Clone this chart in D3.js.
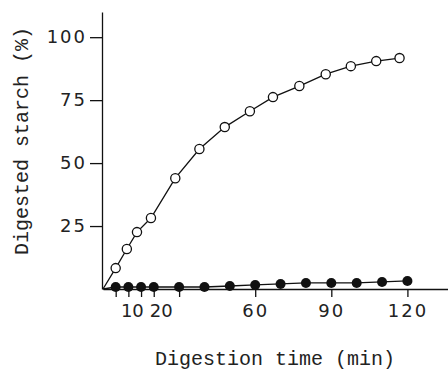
<!DOCTYPE html>
<html>
<head>
<meta charset="utf-8">
<script src="https://cdn.jsdelivr.net/npm/d3@7"></script>
<style>
  body { margin: 0; background: #fff; }
  .chart svg { display: block; }
</style>
</head>
<body>
<div class="chart"></div>
<script>
// open circles: time (min) and digested starch (%)
const openTime = [0, 5, 9.4, 13.4, 18.9, 28.5, 38, 48, 57.9, 67, 77.4, 87.8, 97.7, 107.7, 116.9];
const openValue = [0, 8.3, 15.9, 22.6, 28.2, 44, 55.6, 64.3, 70.6, 76.2, 80.6, 85.3, 88.5, 90.5, 91.7];
// filled circles
const filledTime = [0, 5, 10, 15, 20, 30, 40, 50, 60, 70, 80, 90, 100, 110, 120];
const filledValue = [0, 0.8, 0.8, 0.8, 0.8, 0.8, 0.8, 1.2, 1.6, 2.0, 2.4, 2.4, 2.4, 2.8, 3.2];

const xTicks = [5, 10, 15, 20, 30, 60, 90, 120];
const xTickLabels = [10, 20, 60, 90, 120];
const yTicks = [25, 50, 75, 100];

let width = 448, height = 370;
let margin = { top: 12, right: 0, bottom: 81, left: 103 };

let svg = d3.select('.chart')
  .append('svg')
    .attr('width', width)
    .attr('height', height);

let xScale = d3.scaleLinear()
  .domain([0, 136])
  .range([margin.left, width - margin.right]);

let yScale = d3.scaleLinear()
  .domain([0, 110])
  .range([height - margin.bottom, margin.top]);

let yAxis = d3.axisLeft(yScale)
  .tickValues(yTicks)
  .tickSize(12)
  .tickPadding(3)
  .tickSizeOuter(0);

let xAxis = d3.axisBottom(xScale)
  .tickValues(xTicks)
  .tickFormat(d => xTickLabels.includes(d) ? d : '')
  .tickSize(8)
  .tickPadding(7)
  .tickSizeOuter(0);

let gy = svg.append('g')
  .attr('transform', `translate(${margin.left - 1}, 0)`)
  .call(yAxis);

let gx = svg.append('g')
  .attr('transform', `translate(0, ${yScale(0)})`)
  .call(xAxis);

[gx, gy].forEach(g => {
  g.selectAll('path, line').attr('stroke', '#111').attr('stroke-width', 1.3);
  g.selectAll('text')
    .attr('fill', '#222')
    .style('font-family', '"DejaVu Sans", sans-serif')
    .style('font-size', '18px')
    .style('letter-spacing', '2px');
});

// the crowded "10 20" labels sit a little right of their ticks in the original
gx.selectAll('text')
  .filter(d => d < 30)
  .style('letter-spacing', '0px')
  .attr('dx', d => d === 10 ? 3.5 : 7);

let line = d3.line()
  .x(d => xScale(d[0]))
  .y(d => yScale(d[1]));

let openData = openTime.map((t, i) => [t, openValue[i]]);
let filledData = filledTime.map((t, i) => [t, filledValue[i]]);

svg.append('path')
  .datum(openData)
  .attr('fill', 'none')
  .attr('stroke', '#111')
  .attr('stroke-width', 1.3)
  .attr('d', line);

svg.append('path')
  .datum(filledData)
  .attr('fill', 'none')
  .attr('stroke', '#111')
  .attr('stroke-width', 1.3)
  .attr('d', line);

svg.selectAll('circle.open')
  .data(openData.slice(1))
  .enter()
  .append('circle')
    .attr('class', 'open')
    .attr('cx', d => xScale(d[0]))
    .attr('cy', d => yScale(d[1]))
    .attr('r', 4.6)
    .attr('fill', '#fff')
    .attr('stroke', '#111')
    .attr('stroke-width', 1.3);

svg.selectAll('circle.filled')
  .data(filledData.slice(1))
  .enter()
  .append('circle')
    .attr('class', 'filled')
    .attr('cx', d => xScale(d[0]))
    .attr('cy', d => yScale(d[1]))
    .attr('r', 5)
    .attr('fill', '#111');

// axis titles
svg.append('text')
  .attr('transform', `translate(28, ${141}) rotate(-90)`)
  .attr('text-anchor', 'middle')
  .style('font-family', '"Liberation Mono", monospace')
  .style('font-size', '20px')
  .attr('fill', '#222')
  .text('Digested starch (%)');

svg.append('text')
  .attr('x', 275)
  .attr('y', 365)
  .attr('text-anchor', 'middle')
  .style('font-family', '"Liberation Mono", monospace')
  .style('font-size', '20px')
  .attr('fill', '#222')
  .text('Digestion time (min)');
</script>
</body>
</html>
